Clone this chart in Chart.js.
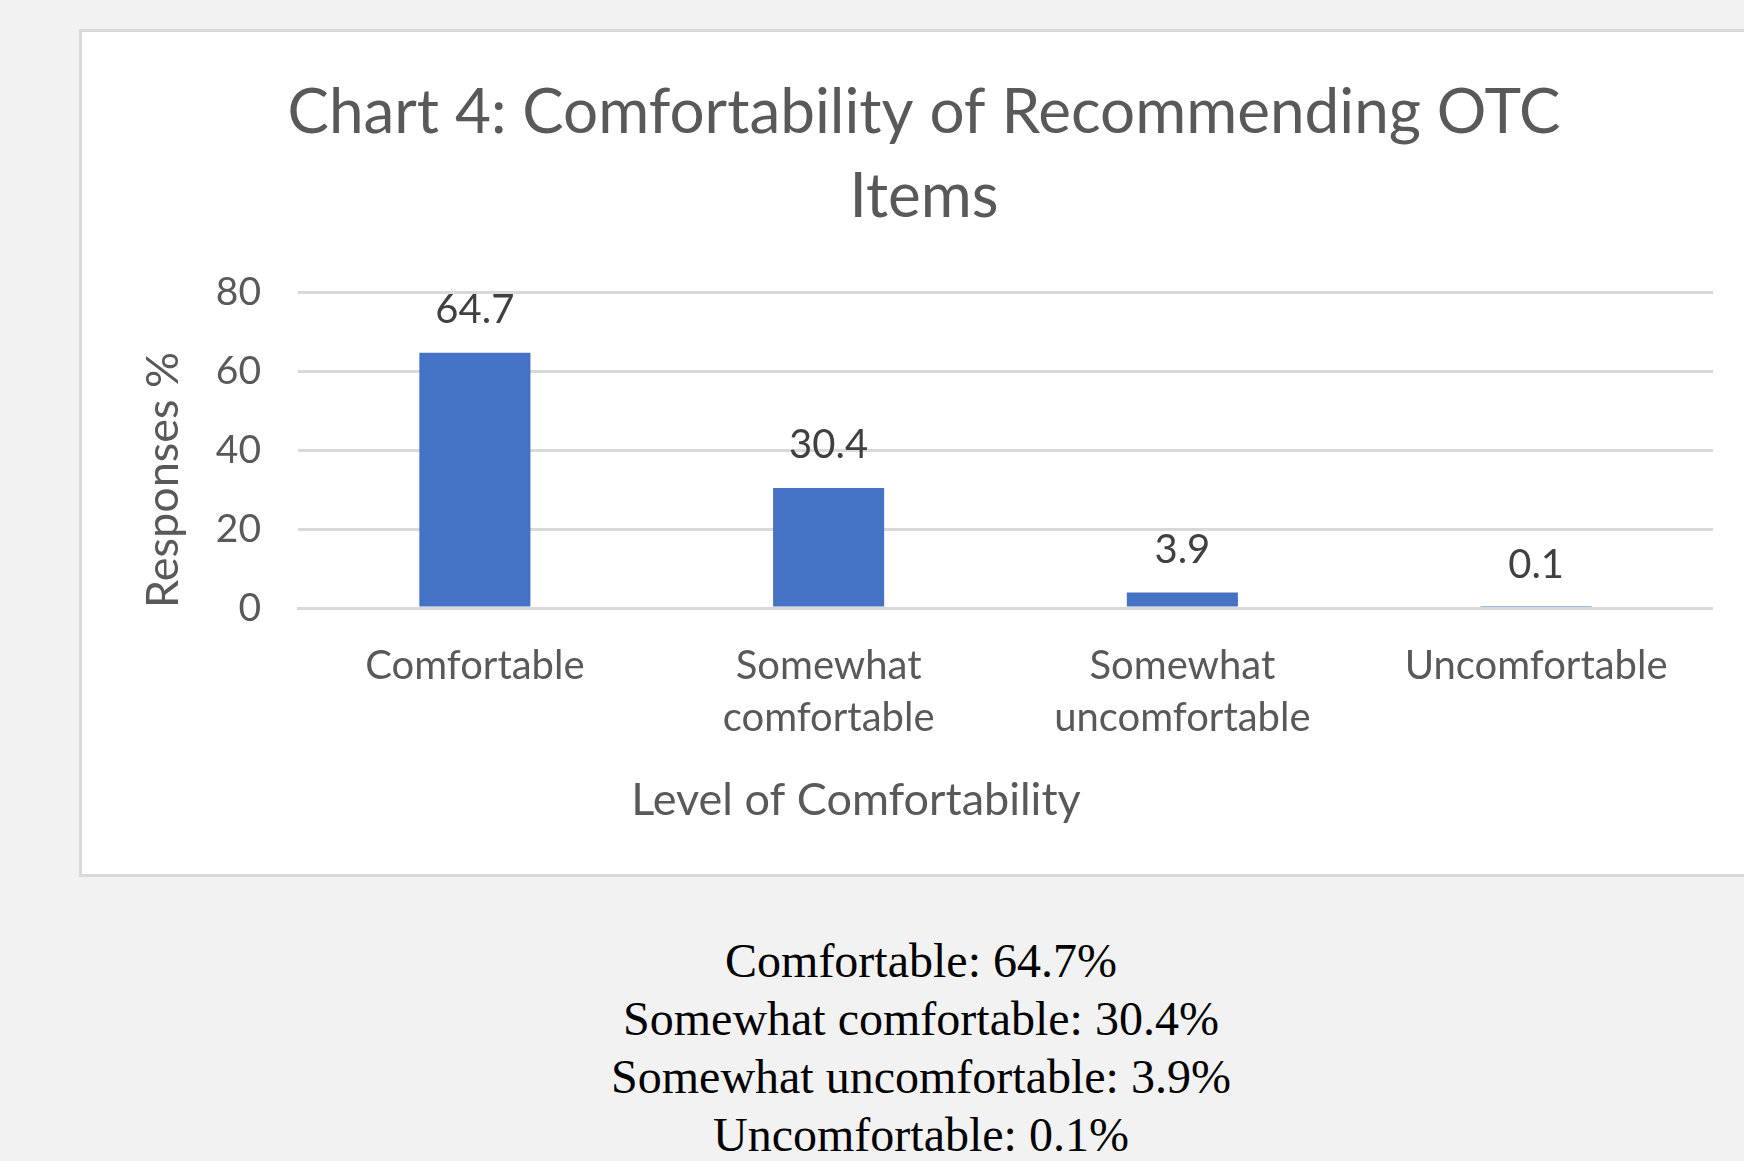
<!DOCTYPE html>
<html>
<head>
<meta charset="utf-8">
<script src="https://cdn.jsdelivr.net/npm/chart.js@4.4.1/dist/chart.umd.min.js"></script>
<style>
html,body{margin:0;padding:0;width:1744px;height:1161px;overflow:hidden;background:#f2f2f2;}
#box{position:absolute;left:79px;top:29px;width:1700px;height:842px;background:#fff;border:3px solid #d9d9d9;}
#wrap{position:absolute;left:82px;top:32px;width:1631px;height:842px;}
#notes{position:absolute;left:521px;width:800px;top:932px;text-align:center;font-family:"Liberation Serif","Times New Roman",serif;font-size:48px;line-height:58px;color:#000;}
</style>
</head>
<body>
<div id="box"></div>
<div id="wrap"><canvas id="c"></canvas></div>
<div id="notes"></div>
<script>
const chartTitle = ["Chart 4: Comfortability of Recommending OTC", "Items"];
const categories = [["Comfortable"], ["Somewhat", "comfortable"], ["Somewhat", "uncomfortable"], ["Uncomfortable"]];
const categoryNames = ["Comfortable", "Somewhat comfortable", "Somewhat uncomfortable", "Uncomfortable"];
const responses = [64.7, 30.4, 3.9, 0.1];
const yTicks = [0, 20, 40, 60, 80];
const xAxisTitle = "Level of Comfortability";
const yAxisTitle = "Responses %";

const FONT = "Lato";
const GREY = "#595959";

const valueLabels = {
  id: 'valueLabels',
  afterDatasetsDraw(chart) {
    const ctx = chart.ctx;
    const meta = chart.getDatasetMeta(0);
    ctx.save();
    ctx.font = "40px " + FONT;
    ctx.fillStyle = "#404040";
    ctx.textAlign = "center";
    ctx.textBaseline = "middle";
    meta.data.forEach((bar, i) => {
      ctx.fillText(responses[i].toFixed(1), bar.x, bar.y - 43);
    });
    ctx.restore();
  }
};

const xTitlePlugin = {
  id: 'xTitlePlugin',
  afterDraw(chart) {
    const ctx = chart.ctx;
    const a = chart.chartArea;
    ctx.save();
    ctx.font = "45px " + FONT;
    ctx.fillStyle = GREY;
    ctx.textAlign = "center";
    ctx.textBaseline = "middle";
    ctx.fillText(xAxisTitle, a.left + 558, a.bottom + 192);
    ctx.restore();
  }
};

new Chart(document.getElementById('c'), {
  type: 'bar',
  data: {
    labels: categories,
    datasets: [{
      data: responses,
      backgroundColor: "#4472C4",
      borderWidth: 0,
      categoryPercentage: 1,
      barPercentage: 0.314
    }]
  },
  options: {
    responsive: true,
    maintainAspectRatio: false,
    animation: false,
    layout: { padding: { left: 53, right: 0, top: 0, bottom: 0 } },
    plugins: {
      legend: { display: false },
      tooltip: { enabled: false },
      title: {
        display: true,
        text: chartTitle,
        color: GREY,
        font: { family: FONT, size: 62, weight: 'normal', lineHeight: 1.35 },
        padding: { top: 39, bottom: 54 }
      }
    },
    scales: {
      x: {
        grid: { display: false, drawTicks: false },
        border: { display: true, color: "#d9d9d9", width: 3, z: 1 },
        ticks: {
          color: GREY,
          font: { family: FONT, size: 40, lineHeight: 1.3 },
          padding: 32,
          maxRotation: 0,
          autoSkip: false
        },
        afterFit(scale) { scale.height = 266; }
      },
      y: {
        min: 0,
        max: 80,
        afterBuildTicks(scale) { scale.ticks = yTicks.map(v => ({ value: v })); },
        grid: { color: "#d9d9d9", lineWidth: 3, drawTicks: false },
        border: { display: false },
        ticks: {
          color: GREY,
          font: { family: FONT, size: 39 },
          padding: 37
        },
        title: {
          display: true,
          text: yAxisTitle,
          align: 'start',
          color: GREY,
          font: { family: FONT, size: 45, lineHeight: 1.2 },
          padding: { top: 1, bottom: 0 }
        },
        afterFit(scale) { scale.width = 163; }
      }
    }
  },
  plugins: [valueLabels, xTitlePlugin]
});

const notes = document.getElementById('notes');
categoryNames.forEach((name, i) => {
  const d = document.createElement('div');
  d.textContent = name + ": " + responses[i].toFixed(1) + "%";
  notes.appendChild(d);
});
</script>
</body>
</html>
